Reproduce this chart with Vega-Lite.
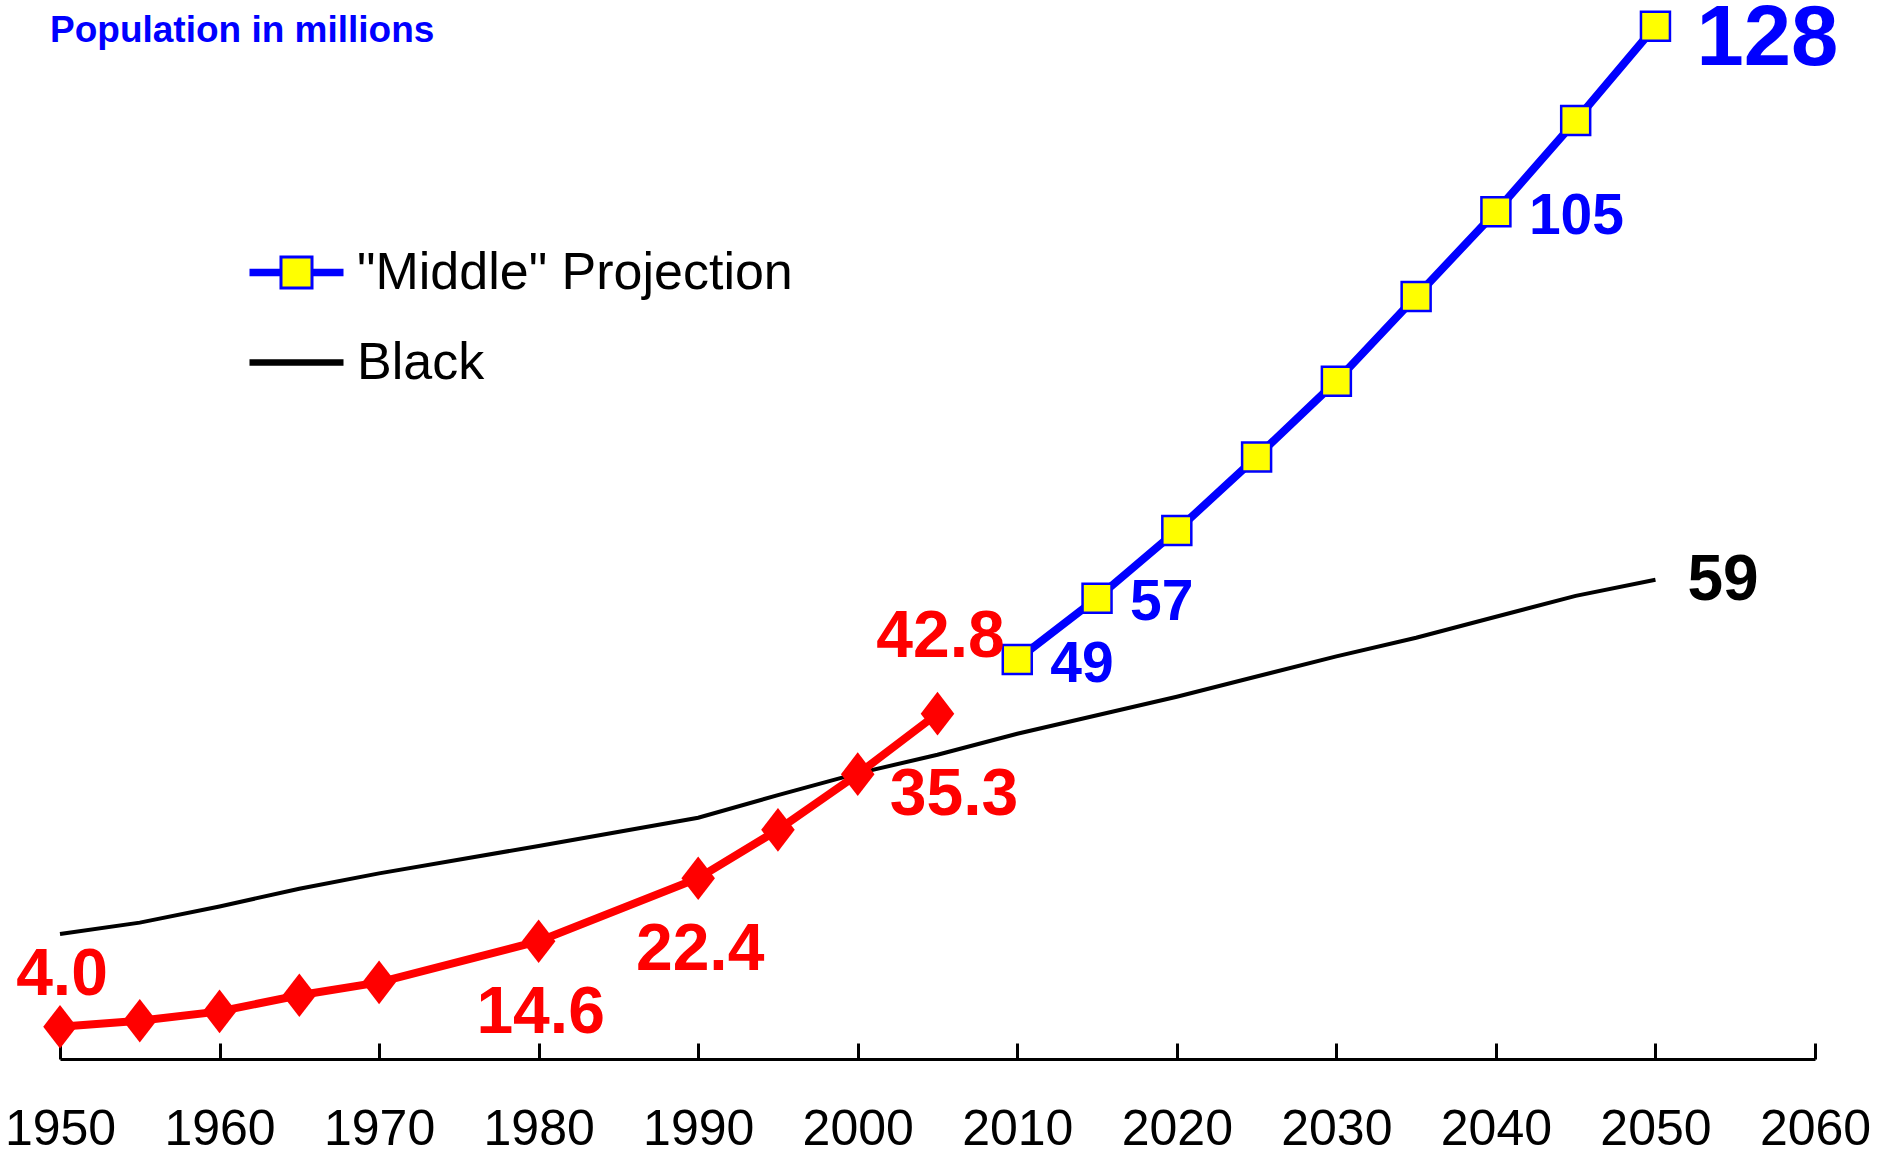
{
  "$schema": "https://vega.github.io/schema/vega-lite/v6.json",
  "width": 1755,
  "height": 1049,
  "autosize": {"type": "none"},
  "padding": {"left": 60, "top": 10, "right": 65, "bottom": 97},
  "background": "white",
  "config": {"view": {"stroke": null}, "font": "Liberation Sans"},
  "title": {
    "text": "Population in millions",
    "anchor": "start",
    "frame": "group",
    "orient": "top",
    "offset": 0,
    "dx": -10,
    "dy": 82,
    "fontSize": 37,
    "fontWeight": "bold",
    "color": "#0000FF",
    "font": "Liberation Sans",
    "baseline": "alphabetic"
  },
  "data": {
    "values": [
      {"year": 1950, "value": 4.0, "series": "Hispanic", "label": "4.0"},
      {"year": 1955, "value": 4.75, "series": "Hispanic"},
      {"year": 1960, "value": 5.9, "series": "Hispanic"},
      {"year": 1965, "value": 7.9, "series": "Hispanic"},
      {"year": 1970, "value": 9.5, "series": "Hispanic"},
      {"year": 1980, "value": 14.6, "series": "Hispanic", "label": "14.6"},
      {"year": 1990, "value": 22.4, "series": "Hispanic", "label": "22.4"},
      {"year": 1995, "value": 28.4, "series": "Hispanic"},
      {"year": 2000, "value": 35.3, "series": "Hispanic", "label": "35.3"},
      {"year": 2005, "value": 42.8, "series": "Hispanic", "label": "42.8"},
      {"year": 2010, "value": 49.5, "series": "\"Middle\" Projection", "label": "49"},
      {"year": 2015, "value": 57.1, "series": "\"Middle\" Projection", "label": "57"},
      {"year": 2020, "value": 65.5, "series": "\"Middle\" Projection"},
      {"year": 2025, "value": 74.6, "series": "\"Middle\" Projection"},
      {"year": 2030, "value": 84.0, "series": "\"Middle\" Projection"},
      {"year": 2035, "value": 94.5, "series": "\"Middle\" Projection"},
      {"year": 2040, "value": 105.0, "series": "\"Middle\" Projection", "label": "105"},
      {"year": 2045, "value": 116.3, "series": "\"Middle\" Projection"},
      {"year": 2050, "value": 128.0, "series": "\"Middle\" Projection", "label": "128"},
      {"year": 1950, "value": 15.5, "series": "Black"},
      {"year": 1955, "value": 16.9, "series": "Black"},
      {"year": 1960, "value": 18.9, "series": "Black"},
      {"year": 1965, "value": 21.1, "series": "Black"},
      {"year": 1970, "value": 23.0, "series": "Black"},
      {"year": 1980, "value": 26.4, "series": "Black"},
      {"year": 1990, "value": 29.9, "series": "Black"},
      {"year": 1995, "value": 32.7, "series": "Black"},
      {"year": 2000, "value": 35.4, "series": "Black"},
      {"year": 2005, "value": 37.7, "series": "Black"},
      {"year": 2010, "value": 40.3, "series": "Black"},
      {"year": 2015, "value": 42.6, "series": "Black"},
      {"year": 2020, "value": 44.9, "series": "Black"},
      {"year": 2025, "value": 47.4, "series": "Black"},
      {"year": 2030, "value": 49.9, "series": "Black"},
      {"year": 2035, "value": 52.2, "series": "Black"},
      {"year": 2040, "value": 54.8, "series": "Black"},
      {"year": 2045, "value": 57.4, "series": "Black"},
      {"year": 2050, "value": 59.4, "series": "Black", "label": "59"}
    ]
  },
  "encoding": {
    "x": {
      "field": "year",
      "type": "quantitative",
      "scale": {"domain": [1950, 2060], "nice": false, "zero": false},
      "axis": {
        "values": [1950, 1960, 1970, 1980, 1990, 2000, 2010, 2020, 2030, 2040, 2050, 2060],
        "format": "d",
        "title": null,
        "grid": false,
        "domainColor": "#000000",
        "domainWidth": 3,
        "tickColor": "#000000",
        "tickWidth": 3,
        "tickSize": -16,
        "labelFontSize": 50,
        "labelFont": "Liberation Sans",
        "labelColor": "#000000",
        "labelPadding": 61,
        "labelFlush": false,
        "labelOverlap": false
      }
    },
    "y": {
      "field": "value",
      "type": "quantitative",
      "scale": {"domain": [0, 130], "nice": false},
      "axis": null
    }
  },
  "layer": [
    {
      "transform": [{"filter": "datum.series == 'Black'"}],
      "mark": {"type": "line", "stroke": "#000000", "strokeWidth": 4}
    },
    {
      "transform": [{"filter": "datum.series == 'Hispanic'"}],
      "mark": {"type": "line", "stroke": "#FF0000", "strokeWidth": 8}
    },
    {
      "transform": [{"filter": "datum.series == 'Hispanic'"}],
      "mark": {"type": "point", "shape": "M0,-1L0.77,0L0,1L-0.77,0Z", "filled": true, "fill": "#FF0000", "strokeWidth": 0, "size": 1900, "opacity": 1}
    },
    {
      "transform": [{"filter": "datum.series == '\"Middle\" Projection'"}],
      "mark": {"type": "line", "stroke": "#0000FF", "strokeWidth": 8}
    },
    {
      "transform": [{"filter": "datum.series == '\"Middle\" Projection'"}],
      "mark": {"type": "point", "shape": "square", "filled": true, "fill": "#FFFF00", "stroke": "#0000FF", "strokeWidth": 2.5, "size": 840, "opacity": 1}
    },
    {
      "transform": [{"filter": "datum.series != 'Hispanic'"}],
      "mark": {"type": "point", "filled": true, "opacity": 0},
      "encoding": {
        "shape": {
          "field": "series", "type": "nominal",
          "scale": {"domain": ["\"Middle\" Projection", "Black"], "range": ["M-1,-0.05H-0.33M-1,0H-0.33M-1,0.05H-0.33M0.33,-0.05H1M0.33,0H1M0.33,0.05H1M-0.33,-0.33H0.33V0.33H-0.33Z", "M-1,-0.035H1M-1,0H1M-1,0.035H1"]},
          "legend": {"title": null, "orient": "none", "legendX": 188, "legendY": 214, "symbolSize": 8836, "symbolStrokeWidth": 3, "symbolOpacity": 1, "labelFontSize": 52, "labelFont": "Liberation Sans", "labelColor": "#000000", "labelOffset": 12, "rowPadding": 15, "padding": 0, "labelLimit": 0}
        },
        "fill": {
          "field": "series", "type": "nominal",
          "scale": {"domain": ["\"Middle\" Projection", "Black"], "range": ["#FFFF00", "#000000"]},
          "legend": {"title": null, "orient": "none", "legendX": 188, "legendY": 214, "symbolSize": 8836, "symbolStrokeWidth": 3, "symbolOpacity": 1, "labelFontSize": 52, "labelFont": "Liberation Sans", "labelColor": "#000000", "labelOffset": 12, "rowPadding": 15, "padding": 0, "labelLimit": 0}
        },
        "stroke": {
          "field": "series", "type": "nominal",
          "scale": {"domain": ["\"Middle\" Projection", "Black"], "range": ["#0000FF", "#000000"]},
          "legend": {"title": null, "orient": "none", "legendX": 188, "legendY": 214, "symbolSize": 8836, "symbolStrokeWidth": 3, "symbolOpacity": 1, "labelFontSize": 52, "labelFont": "Liberation Sans", "labelColor": "#000000", "labelOffset": 12, "rowPadding": 15, "padding": 0, "labelLimit": 0}
        }
      }
    },
    {
      "transform": [{"filter": "datum.label == '49' || datum.label == '57' || datum.label == '105'"}],
      "mark": {"type": "text", "align": "left", "baseline": "middle", "dx": 33, "dy": 5, "fontSize": 57, "fontWeight": "bold", "font": "Liberation Sans", "fill": "#0000FF"},
      "encoding": {"text": {"field": "label"}}
    },
    {
      "transform": [{"filter": "datum.label == '128'"}],
      "mark": {"type": "text", "align": "left", "baseline": "middle", "dx": 41, "dy": 13, "fontSize": 85, "fontWeight": "bold", "font": "Liberation Sans", "fill": "#0000FF"},
      "encoding": {"text": {"field": "label"}}
    },
    {
      "transform": [{"filter": "datum.label == '59'"}],
      "mark": {"type": "text", "align": "left", "baseline": "middle", "dx": 32, "dy": 1, "fontSize": 64, "fontWeight": "bold", "font": "Liberation Sans", "fill": "#000000"},
      "encoding": {"text": {"field": "label"}}
    },
    {
      "transform": [{"filter": "datum.label == '35.3'"}],
      "mark": {"type": "text", "align": "left", "baseline": "middle", "dx": 32, "dy": 21, "fontSize": 66, "fontWeight": "bold", "font": "Liberation Sans", "fill": "#FF0000"},
      "encoding": {"text": {"field": "label"}}
    },
    {
      "transform": [{"filter": "datum.label == '4.0'"}],
      "mark": {"type": "text", "align": "center", "baseline": "middle", "dx": 2, "dy": -52, "fontSize": 66, "fontWeight": "bold", "font": "Liberation Sans", "fill": "#FF0000"},
      "encoding": {"text": {"field": "label"}}
    },
    {
      "transform": [{"filter": "datum.label == '42.8'"}],
      "mark": {"type": "text", "align": "center", "baseline": "middle", "dx": 3, "dy": -77, "fontSize": 66, "fontWeight": "bold", "font": "Liberation Sans", "fill": "#FF0000"},
      "encoding": {"text": {"field": "label"}}
    },
    {
      "transform": [{"filter": "datum.label == '14.6' || datum.label == '22.4'"}],
      "mark": {"type": "text", "align": "center", "baseline": "middle", "dx": 2, "dy": 72, "fontSize": 66, "fontWeight": "bold", "font": "Liberation Sans", "fill": "#FF0000"},
      "encoding": {"text": {"field": "label"}}
    }
  ]
}
